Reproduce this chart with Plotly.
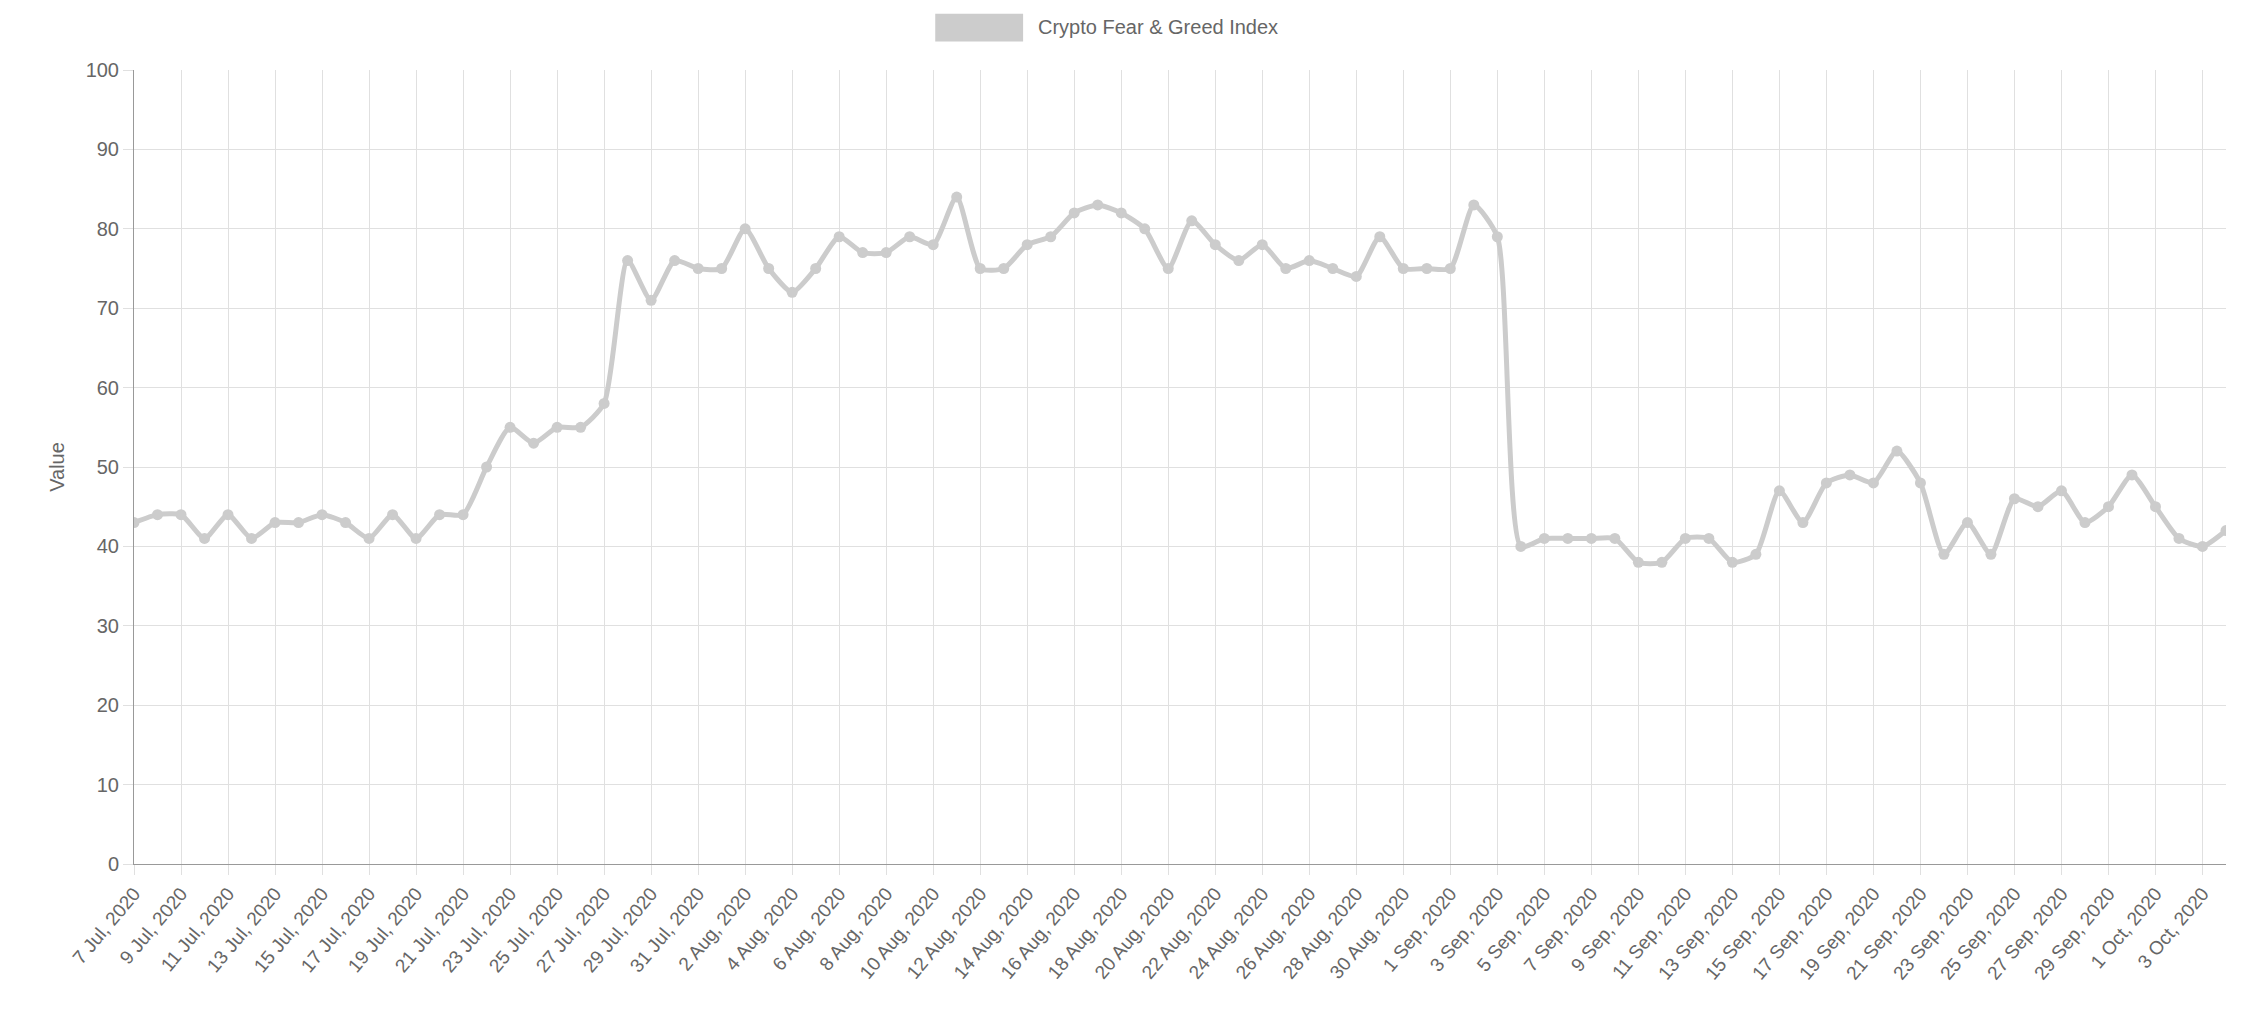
import plotly.graph_objects as go
import pandas as pd

dates = pd.date_range("2020-07-07", "2020-10-04", freq="D")
values = [43,44,44,41,44,41,43,43,44,43,41,44,41,44,44,50,55,53,55,55,58,76,71,76,75,
          75,80,75,72,75,79,77,77,79,78,84,75,75,78,79,82,83,82,80,75,81,78,76,78,75,76,75,74,79,75,75,
          75,83,79,40,41,41,41,41,38,38,41,41,38,39,47,43,48,49,48,52,48,39,43,39,46,45,47,43,45,49,
          45,41,40,42]
labels = [f"{d.day} {d.strftime('%b')}, {d.year}" for d in dates]
tickvals = list(dates[::2])
ticktext = labels[::2]
series_name = "Crypto Fear & Greed Index"

fig = go.Figure(go.Scatter(
    x=dates, y=values, mode="lines+markers", name=series_name,
    line=dict(color="rgb(204,204,204)", width=5, shape="spline", smoothing=0.6),
    marker=dict(color="rgb(204,204,204)", size=11),
))
fig.update_layout(
    template="plotly_white", plot_bgcolor="white", paper_bgcolor="white",
    margin=dict(l=126, r=30, t=62, b=152),
    font=dict(family="Liberation Sans, Arial", color="#666", size=20),
    showlegend=False,
    xaxis=dict(tickvals=tickvals, ticktext=ticktext, tickangle=-50,
               range=[dates[0], dates[-1]], showgrid=True, gridcolor="#e0e0e0",
               showline=True, linecolor="#999", ticks="outside", ticklen=10, tickcolor="#e0e0e0",
               tickfont=dict(size=19)),
    yaxis=dict(range=[0, 100], dtick=10, showgrid=True, gridcolor="#e0e0e0",
               showline=True, linecolor="#999", zeroline=False, ticks="outside", ticklen=10,
               tickcolor="#e0e0e0", title=dict(text="Value", font=dict(size=20)), tickfont=dict(size=20)),
)
fig.add_shape(type="rect", xref="paper", yref="paper", x0=0.383, x1=0.425, y0=1.036, y1=1.071,
              fillcolor="rgb(204,204,204)", line=dict(width=0))
fig.add_annotation(text=series_name, xref="paper", yref="paper", x=0.431, y=1.054,
                   xanchor="left", yanchor="middle", showarrow=False, font=dict(size=20, color="#666"))
fig.write_html("out.html")
